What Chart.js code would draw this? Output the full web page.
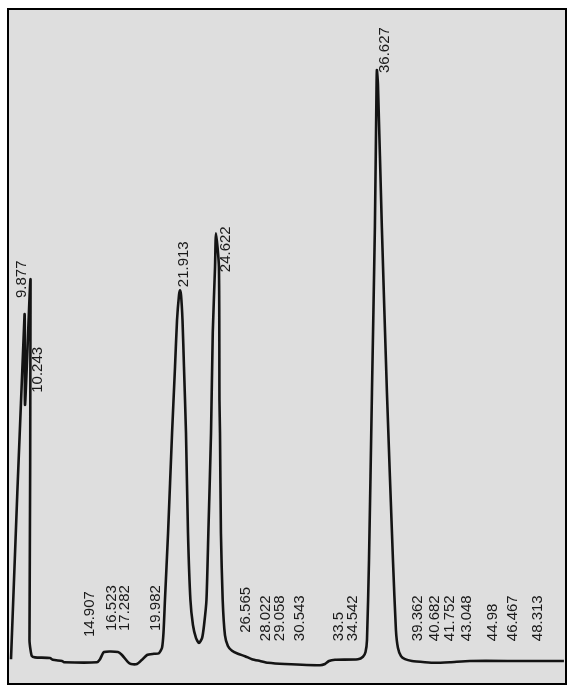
<!DOCTYPE html>
<html>
<head>
<meta charset="utf-8">
<title>Chromatogram</title>
<script src="https://cdn.jsdelivr.net/npm/chart.js@4/dist/chart.umd.min.js"></script>
<style>
    body { margin: 0; background: #ffffff; }
    #wrap { width: 572px; height: 690px; position: relative; }
</style>
</head>
<body>
<div id="wrap"><canvas id="chromChart"></canvas></div>
<script>
// retention time (min) and detector signal
const traceTimes = [
    9.29, 10.30, 10.34, 10.75, 10.67, 10.75, 10.85, 11.08, 12.20, 12.42,
    13.10, 13.25, 15.71, 15.94, 16.24, 17.28, 17.58, 18.03, 18.25, 18.70,
    19.07, 19.45, 19.97, 20.34, 20.57, 20.68, 20.79, 21.02, 21.32, 21.54,
    21.69, 21.84, 21.91, 21.99, 22.10, 22.21, 22.36, 22.51, 22.69, 22.88,
    23.11, 23.33, 23.56, 23.71, 23.89, 24.03, 24.23, 24.36, 24.53, 24.60,
    24.82, 24.86, 24.90, 24.97, 25.10, 25.27, 25.49, 25.80, 26.24, 26.77,
    27.29, 27.89, 28.49, 29.75, 32.37, 32.74, 33.04, 33.49, 35.20, 35.58,
    35.77, 35.88, 36.03, 36.25, 36.47, 36.59, 36.62, 36.70, 36.99, 37.37,
    37.82, 38.04, 38.19, 38.42, 38.72, 39.24, 40.21, 40.96, 42.08, 43.57,
    47.31, 50.59
];
const traceSignal = [
    -0.2, 57.2, 42.2, 63.0, 3.0, 1.3, 0.3, 0.1, 0.0, -0.3,
    -0.5, -0.7, -0.7, -0.2, 1.0, 1.0, 0.5, -0.7, -1.0, -1.0,
    -0.3, 0.5, 0.7, 0.8, 1.7, 4.2, 9.7, 20.8, 37.5, 48.5,
    56.3, 60.5, 61.3, 60.5, 56.3, 48.5, 37.5, 20.8, 9.7, 5.5,
    3.3, 2.5, 3.3, 5.5, 9.7, 20.8, 37.5, 54.2, 65.2, 70.8,
    65.2, 43.0, 37.5, 20.8, 9.7, 3.8, 2.0, 1.2, 0.7, 0.3,
    -0.2, -0.5, -0.8, -1.0, -1.2, -1.0, -0.5, -0.3, -0.2, 0.2,
    1.0, 3.0, 16.3, 44.2, 71.8, 94.7, 98.0, 95.5, 71.8, 44.2,
    16.3, 4.7, 1.7, 0.3, -0.2, -0.5, -0.7, -0.8, -0.7, -0.5,
    -0.5, -0.5
];

// peak labels: retention time and the signal level where the text starts
const peakTimes = [
    9.877, 10.243, 14.907, 16.523, 17.282, 19.982, 21.913, 24.622, 26.565,
    28.022, 29.058, 30.543, 33.5, 34.542, 36.627, 39.362, 40.682, 41.752,
    43.048, 44.98, 46.467, 48.313
];
const peakLabels = [
    '9.877', '10.243', '14.907', '16.523', '17.282', '19.982', '21.913', '24.622', '26.565',
    '28.022', '29.058', '30.543', '33.5', '34.542', '36.627', '39.362', '40.682', '41.752',
    '43.048', '44.98', '46.467', '48.313'
];
const peakLabelLevels = [
    60.0, 44.2, 3.5, 4.5, 4.5, 4.5, 61.8, 64.3, 4.2,
    2.8, 2.8, 2.8, 2.8, 2.8, 97.5, 2.8, 2.8, 2.8,
    2.8, 2.8, 2.8, 2.8
];

const timeMin = 9.14;
const timeMax = 50.67;
const signalMin = -4.17;
const signalMax = 108;

// grey plot background and black frame
const framePlugin = {
    id: 'frame',
    beforeDraw(chart) {
        const { ctx, chartArea } = chart;
        ctx.save();
        ctx.fillStyle = '#dedede';
        ctx.fillRect(chartArea.left, chartArea.top, chartArea.width, chartArea.height);
        ctx.restore();
    },
    afterDraw(chart) {
        const { ctx, chartArea } = chart;
        ctx.save();
        ctx.strokeStyle = '#000000';
        ctx.lineWidth = 2;
        ctx.strokeRect(chartArea.left - 1, chartArea.top - 1, chartArea.width + 2, chartArea.height + 2);
        ctx.restore();
    }
};

// does the trace pass through the box?
function hitsTrace(pts, left, right, top, bottom) {
    for (let i = 1; i < pts.length; i++) {
        const a = pts[i - 1], b = pts[i];
        const steps = Math.ceil(Math.hypot(b.x - a.x, b.y - a.y)) + 1;
        for (let s = 0; s <= steps; s++) {
            const x = a.x + (b.x - a.x) * s / steps;
            const y = a.y + (b.y - a.y) * s / steps;
            if (x >= left && x <= right && y >= top && y <= bottom) return true;
        }
    }
    return false;
}

// vertical retention-time labels above each peak, moved sideways off the line
const peakLabelPlugin = {
    id: 'peakLabels',
    afterDatasetsDraw(chart) {
        const { ctx } = chart;
        const xScale = chart.scales.x;
        const yScale = chart.scales.y;
        const pts = traceTimes.map((t, i) => ({
            x: xScale.getPixelForValue(t),
            y: yScale.getPixelForValue(traceSignal[i])
        }));
        ctx.save();
        ctx.font = '15px "Liberation Sans", Arial, sans-serif';
        ctx.fillStyle = '#1a1a1a';
        ctx.textAlign = 'left';
        ctx.textBaseline = 'middle';
        let lastX = -Infinity;
        peakTimes.forEach((t, i) => {
            const y = yScale.getPixelForValue(peakLabelLevels[i]);
            const len = ctx.measureText(peakLabels[i]).width;
            const start = Math.max(xScale.getPixelForValue(t) + 4, lastX + 13);
            const clear = cx => cx >= lastX + 13 && !hitsTrace(pts, cx - 7, cx + 7, y - len, y);
            let x = start;
            for (let d = 0; d <= 15; d++) {
                if (clear(start + d)) { x = start + d; break; }
                if (d > 0 && clear(start - d)) { x = start - d; break; }
            }
            lastX = x;
            ctx.save();
            ctx.translate(x, y);
            ctx.rotate(-Math.PI / 2);
            ctx.fillText(peakLabels[i], 0, 0);
            ctx.restore();
        });
        ctx.restore();
    }
};

const points = traceTimes.map((t, i) => ({ x: t, y: traceSignal[i] }));

new Chart(document.getElementById('chromChart'), {
    type: 'line',
    data: {
        datasets: [{
            data: points,
            borderColor: '#141414',
            borderWidth: 2.6,
            pointRadius: 0,
            tension: 0.2,
            fill: false
        }]
    },
    options: {
        responsive: true,
        maintainAspectRatio: false,
        animation: false,
        layout: {
            padding: { left: 9, right: 7, top: 10, bottom: 7 }
        },
        plugins: {
            legend: { display: false },
            tooltip: { enabled: false }
        },
        scales: {
            x: { type: 'linear', min: timeMin, max: timeMax, display: false },
            y: { min: signalMin, max: signalMax, display: false }
        }
    },
    plugins: [framePlugin, peakLabelPlugin]
});
</script>
</body>
</html>
